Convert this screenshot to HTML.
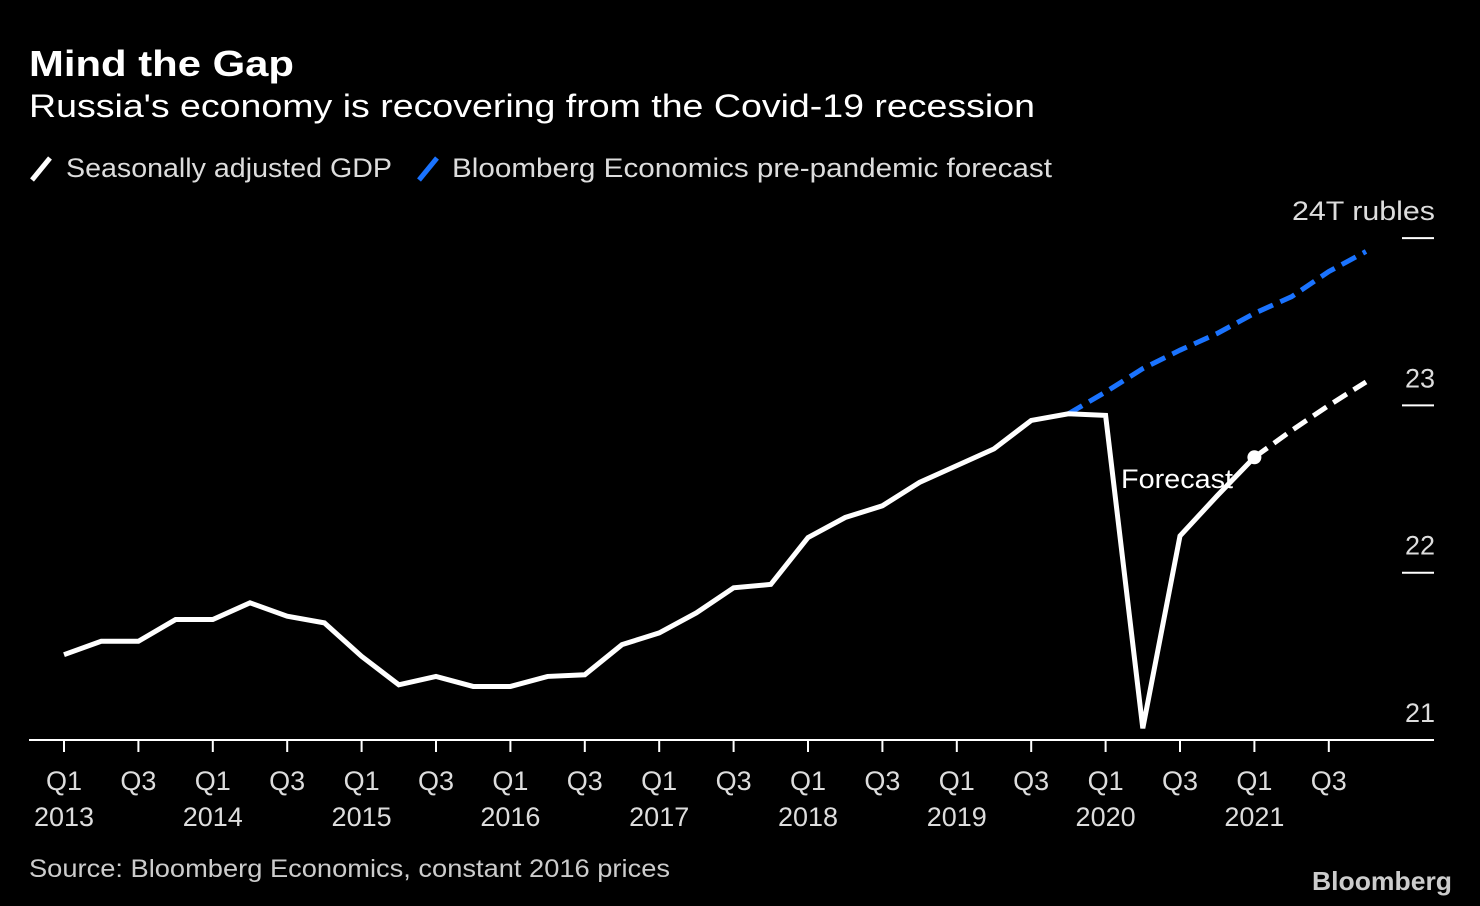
<!DOCTYPE html>
<html><head><meta charset="utf-8"><style>
body{margin:0;background:#000;width:1480px;height:906px;overflow:hidden;font-family:"Liberation Sans",sans-serif;color:#fff}
</style></head><body>
<svg width="1480" height="906" style="position:absolute;left:0;top:0">
<text x="29" y="76" font-size="36" font-weight="bold" fill="#fff" textLength="265" lengthAdjust="spacingAndGlyphs">Mind the Gap</text>
<text x="29" y="117" font-size="32" fill="#fff" textLength="1006" lengthAdjust="spacingAndGlyphs">Russia's economy is recovering from the Covid-19 recession</text>
<g>
<line x1="32" y1="180" x2="50" y2="158" stroke="#fff" stroke-width="5"/>
<text x="66" y="177" font-size="27" fill="#ddd" textLength="326" lengthAdjust="spacingAndGlyphs">Seasonally adjusted GDP</text>
<line x1="419" y1="180" x2="437" y2="158" stroke="#1a73ff" stroke-width="5"/>
<text x="452" y="177" font-size="27" fill="#ddd" textLength="600" lengthAdjust="spacingAndGlyphs">Bloomberg Economics pre-pandemic forecast</text>
</g>
<g id="axes"></g>
<g id="marks"></g>
<text x="1121" y="488" font-size="27" fill="#fff" textLength="112" lengthAdjust="spacingAndGlyphs">Forecast</text>
<text x="29" y="877" font-size="25" fill="#ccc" textLength="641" lengthAdjust="spacingAndGlyphs">Source: Bloomberg Economics, constant 2016 prices</text>
<text x="1312" y="890" font-size="26" font-weight="bold" fill="#ccc" textLength="140" lengthAdjust="spacingAndGlyphs">Bloomberg</text>
</svg>
<script>
const gdpActual=[21.51,21.59,21.59,21.72,21.72,21.82,21.74,21.70,21.50,21.33,21.38,21.32,21.32,21.38,21.39,21.57,21.64,21.76,21.91,21.93,22.21,22.33,22.40,22.54,22.64,22.74,22.91,22.95,22.94,21.07,22.22,22.46,22.69];
const gdpForecast=[22.69,22.85,23.00,23.14];
const preForecast=[22.95,23.08,23.22,23.33,23.43,23.55,23.65,23.80,23.92];
const yTicks=[21,22,23,24];
const yTickLabels=["21","22","23","24T rubles"];
const xLabels=[["Q1","2013"],["Q3",""],["Q1","2014"],["Q3",""],["Q1","2015"],["Q3",""],["Q1","2016"],["Q3",""],["Q1","2017"],["Q3",""],["Q1","2018"],["Q3",""],["Q1","2019"],["Q3",""],["Q1","2020"],["Q3",""],["Q1","2021"],["Q3",""]];
const NS="http://www.w3.org/2000/svg";
const x=i=>64+i*37.2;
const y=v=>740-(v-21)*167.3;
const axes=document.getElementById('axes'),marks=document.getElementById('marks');
function mk(tag,attrs,parent){const e=document.createElementNS(NS,tag);for(const k in attrs)e.setAttribute(k,attrs[k]);parent.appendChild(e);return e;}
const base=mk('line',{x1:29,x2:1434,y1:740,y2:740,stroke:'#fff','stroke-width':2},axes);


yTicks.forEach((v,i)=>{
  if(v>21){const g=mk('line',{x1:1402,x2:1434,y1:y(v),y2:y(v),stroke:'#fff','stroke-width':2},axes);
  
  }
  const t=mk('text',{x:1435,y:y(v)-18,'font-size':27,fill:'#ddd','text-anchor':'end'},axes);
  if(v===24){t.setAttribute('textLength',143);t.setAttribute('lengthAdjust','spacingAndGlyphs');}
  t.textContent=yTickLabels[i];
  
  
});
xLabels.forEach((l,k)=>{
  const i=k*2;
  const tk=mk('line',{x1:x(i),x2:x(i),y1:740,y2:752,stroke:'#fff','stroke-width':2},axes);
  
  
  const t=mk('text',{x:x(i),y:790,'font-size':27,fill:'#ddd','text-anchor':'middle'},axes);
  t.textContent=l[0];
  
  
  if(l[1]){const t2=mk('text',{x:x(i),y:826,'font-size':27,fill:'#ddd','text-anchor':'middle'},axes);
  t2.textContent=l[1];
  
  }
});
const pts=(arr,off)=>arr.map((v,i)=>x(i+off)+','+y(v)).join(' ');
const p1=mk('polyline',{points:pts(preForecast,27),fill:'none',stroke:'#1a73ff','stroke-width':5,'stroke-dasharray':'16,8'},marks);


const p2=mk('polyline',{points:pts(gdpActual,0),fill:'none',stroke:'#fff','stroke-width':5,'stroke-linejoin':'miter'},marks);


const p3=mk('polyline',{points:pts(gdpForecast,32),fill:'none',stroke:'#fff','stroke-width':5,'stroke-dasharray':'16,8'},marks);


const d=mk('circle',{cx:x(32),cy:y(gdpForecast[0]),r:7,fill:'#fff'},marks);


</script>
</body></html>
